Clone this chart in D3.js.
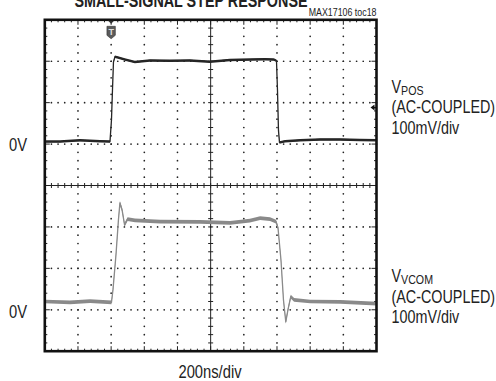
<!DOCTYPE html>
<html><head><meta charset="utf-8">
<script src="https://cdn.jsdelivr.net/npm/d3@7"></script>
<style>
body{margin:0;background:#fff}
svg{display:block}
text{font-family:"Liberation Sans",Arial,sans-serif;fill:#222}
</style>
</head><body>
<svg id="c" width="496" height="381"></svg>
<script>
// ---- data (time in ns, voltage in mV, AC-coupled) ----
const title = "SMALL-SIGNAL STEP RESPONSE";
const tag = "MAX17106 toc18";
const xLabel = "200ns/div";
const zeroLabel = "0V";
const channelNames = ["V", "V"];
const channelSubs = ["POS", "VCOM"];
const channelLines = ["(AC-COUPLED)", "100mV/div"];
const channelOffsetMv = [106, -281];   // scope channel offset
const triggerTimeNs = 400;
const triggerLevelMv = 82;

const vposTime = [0, 92, 212, 333, 393, 402, 408, 414, 423, 441, 483, 543, 634, 754, 875, 995, 1116, 1236, 1327, 1381, 1397, 1403, 1409, 1415, 1449, 1540, 1660, 1780, 1900, 2000];
const vposMv   = [0, 0, 3, 1, 0, 52, 124, 192, 205, 203, 198, 192, 196, 195, 196, 193, 197, 198, 199, 198, 195, 124, 27, -2, 1, 3, 5, 5, 4, 3];

const vcomTime = [0, 152, 273, 402, 411, 429, 444, 453, 466, 481, 499, 544, 695, 936, 1117, 1237, 1298, 1358, 1394, 1406, 1424, 1439, 1453, 1466, 1483, 1503, 1600, 1781, 2000];
const vcomMv   = [1, -1, 2, -1, 29, 113, 198, 239, 222, 186, 200, 197, 194, 193, 191, 196, 202, 200, 194, 179, 101, 5, -48, -19, 13, 5, 1, 0, -4];

const noiseMv = [3, 4.5];   // visible noise half-band of each trace

// ---- layout ----
const svg = d3.select("#c");
const x = d3.scaleLinear().domain([0, 2000]).range([44.8, 376.5]);
const y = d3.scaleLinear().domain([-400, 400]).range([351.2, 19.8]);
const SX = 0.82; // condensed type

function txt(px, py, str, size, anchor, weight) {
  const t = svg.append("text")
    .attr("transform", `translate(${px},${py}) scale(${SX},1)`)
    .attr("text-anchor", anchor || "start")
    .style("font-size", size + "px");
  if (weight) t.style("font-weight", weight);
  if (str !== null) t.text(str);
  return t;
}

const minorX = d3.range(0, 2001, 40), majorX = d3.range(0, 2001, 200);
const minorY = d3.range(-400, 401, 20), majorY = d3.range(-400, 401, 100);

const g = svg.append("g");

// dotted grid
majorY.filter(v => v !== 0 && Math.abs(v) !== 400).forEach(v => {
  g.selectAll(null).data(minorX).enter().append("circle")
    .attr("cx", d => x(d)).attr("cy", y(v)).attr("r", 0.85).attr("fill", "#222");
});
majorX.filter(t => t !== 1000 && t !== 0 && t !== 2000).forEach(t => {
  g.selectAll(null).data(minorY).enter().append("circle")
    .attr("cx", x(t)).attr("cy", d => y(d)).attr("r", 0.85).attr("fill", "#222");
});

// center axes with ticks
g.append("line").attr("x1", x(0)).attr("x2", x(2000)).attr("y1", y(0)).attr("y2", y(0)).attr("stroke", "#222").attr("stroke-width", 1);
g.append("line").attr("x1", x(1000)).attr("x2", x(1000)).attr("y1", y(-400)).attr("y2", y(400)).attr("stroke", "#222").attr("stroke-width", 1);
g.selectAll(null).data(minorX).enter().append("line")
  .attr("x1", d => x(d)).attr("x2", d => x(d)).attr("y1", y(0) - 2.5).attr("y2", y(0) + 2.5)
  .attr("stroke", "#222").attr("stroke-width", 1);
g.selectAll(null).data(minorY).enter().append("line")
  .attr("x1", x(1000) - 2.5).attr("x2", x(1000) + 2.5).attr("y1", d => y(d)).attr("y2", d => y(d))
  .attr("stroke", "#222").attr("stroke-width", 1);

// border ticks
const tk = (t) => majorX.includes(t) ? 5 : 2.5;
const tky = (v) => majorY.includes(v) ? 5 : 2.5;
g.selectAll(null).data(minorX).enter().append("line")
  .attr("x1", d => x(d)).attr("x2", d => x(d)).attr("y1", y(400)).attr("y2", d => y(400) + tk(d))
  .attr("stroke", "#222").attr("stroke-width", 1);
g.selectAll(null).data(minorX).enter().append("line")
  .attr("x1", d => x(d)).attr("x2", d => x(d)).attr("y1", y(-400)).attr("y2", d => y(-400) - tk(d))
  .attr("stroke", "#222").attr("stroke-width", 1);
g.selectAll(null).data(minorY).enter().append("line")
  .attr("x1", x(0)).attr("x2", d => x(0) + tky(d)).attr("y1", d => y(d)).attr("y2", d => y(d))
  .attr("stroke", "#222").attr("stroke-width", 1);
g.selectAll(null).data(minorY).enter().append("line")
  .attr("x1", x(2000)).attr("x2", d => x(2000) - tky(d)).attr("y1", d => y(d)).attr("y2", d => y(d))
  .attr("stroke", "#222").attr("stroke-width", 1);

// traces
function drawTrace(times, mv, off, noise, color) {
  const pts = times.map((t, i) => [t, mv[i] + off]);
  const area = d3.area().x(d => x(d[0])).y0(d => y(d[1] - noise)).y1(d => y(d[1] + noise));
  const line = d3.line().x(d => x(d[0])).y(d => y(d[1]));
  g.append("path").attr("d", area(pts)).attr("fill", color);
  g.append("path").attr("d", line(pts)).attr("fill", "none").attr("stroke", color)
    .attr("stroke-width", 1.3).attr("stroke-linejoin", "round");
}
drawTrace(vposTime, vposMv, channelOffsetMv[0], noiseMv[0], "#262626");
drawTrace(vcomTime, vcomMv, channelOffsetMv[1], noiseMv[1], "#8a8a8a");

// frame
g.append("rect").attr("x", x(0)).attr("y", y(400)).attr("width", x(2000) - x(0)).attr("height", y(-400) - y(400))
  .attr("fill", "none").attr("stroke", "#111").attr("stroke-width", 2.6);

// trigger marker (top)
const tx = x(triggerTimeNs);
g.append("path").attr("d", `M${tx - 3},${y(400) + 1}L${tx + 3},${y(400) + 1}L${tx},${y(400) + 4}Z`).attr("fill", "#333");
g.append("path").attr("d", `M${tx - 4.2},${y(400) + 6.5}h8.4v9l-4.2,3.5l-4.2,-3.5Z`).attr("fill", "#5a5a5a").attr("stroke", "#333").attr("stroke-width", 0.6);
g.append("text").attr("x", tx).attr("y", y(400) + 15.5).attr("text-anchor", "middle")
  .style("font-size", "9px").style("font-weight", "bold").style("fill", "#ddd").text("T");

// trigger level marker (right)
const ty = y(triggerLevelMv + channelOffsetMv[0]);
g.append("path").attr("d", `M${x(2000) - 6},${ty}L${x(2000) - 2},${ty - 3}L${x(2000) - 2},${ty + 3}Z`).attr("fill", "#111");
g.append("line").attr("x1", x(2000) - 3).attr("x2", x(2000)).attr("y1", ty).attr("y2", ty).attr("stroke", "#111").attr("stroke-width", 1.5);

// texts
txt(191, 6.5, title, 17.5, "middle", "bold");
txt(x(2000), 16, tag, 10.8, "end");
txt(210, 378, xLabel, 18, "middle");

const zeroY = [150.5, 318];
zeroY.forEach(yy => txt(27, yy, zeroLabel, 18, "end"));

const labelTop = [93, 282.3];
channelNames.forEach((nm, i) => {
  const t = txt(391.5, labelTop[i], null, 17.5, "start");
  t.append("tspan").text(nm);
  t.append("tspan").attr("dy", 2).style("font-size", "13px").text(channelSubs[i]);
  channelLines.forEach((ln, j) => txt(391.5, labelTop[i] + 20.3 * (j + 1), ln, 17.5, "start"));
});
</script>
</body></html>
